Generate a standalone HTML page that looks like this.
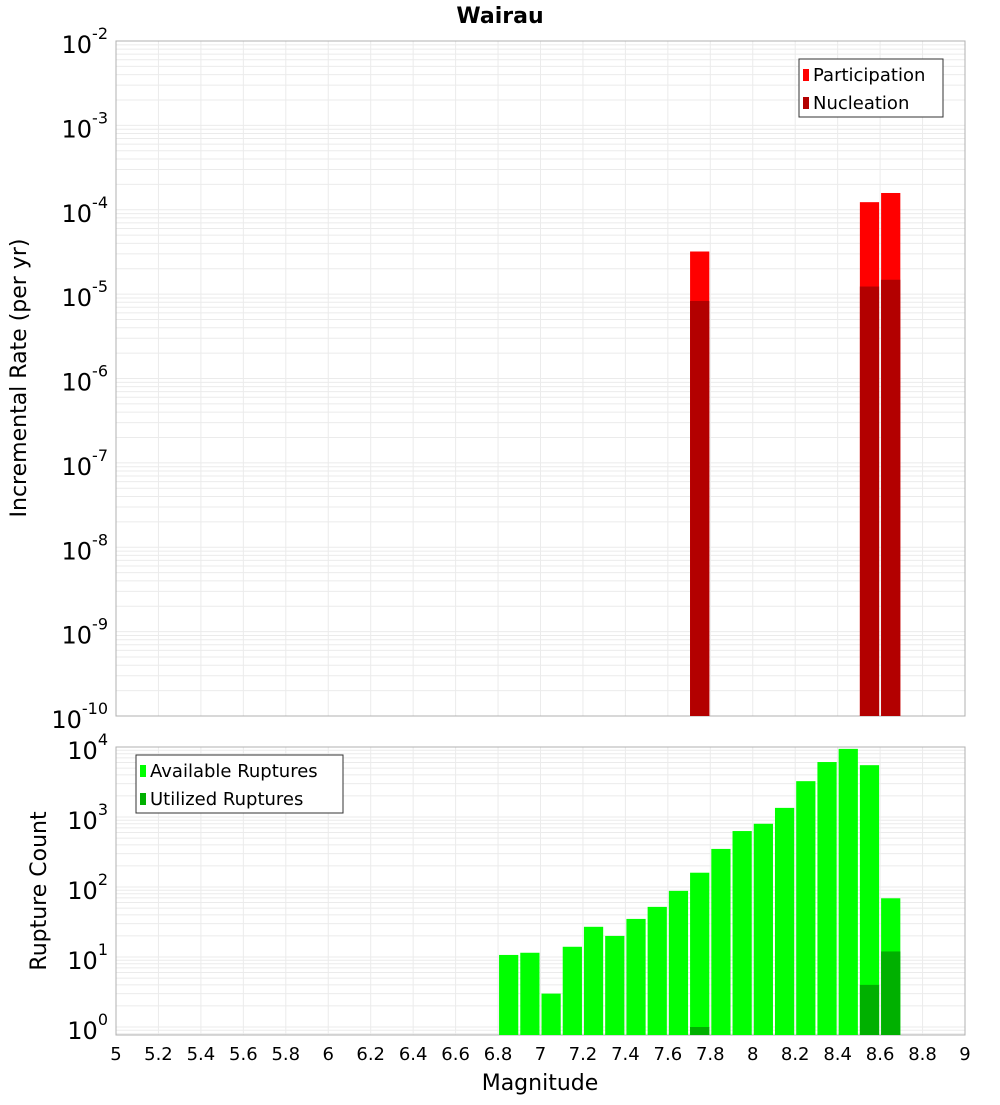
<!DOCTYPE html>
<html><head><meta charset="utf-8"><style>
body{margin:0;background:#fff;font-family:"Liberation Sans","DejaVu Sans",sans-serif}
svg text{font-family:"DejaVu Sans","Liberation Sans",sans-serif}
</style></head><body>
<svg id="c" width="1000" height="1100" xmlns="http://www.w3.org/2000/svg"></svg>
<script>
const mags=[6.85,6.95,7.05,7.15,7.25,7.35,7.45,7.55,7.65,7.75,7.85,7.95,8.05,8.15,8.25,8.35,8.45,8.55,8.65];
const available=[10.7,11.5,3,14,27,20,35,52,88,160,350,630,800,1350,3250,6100,9400,5500,69];
const utilizedMags=[7.75,8.55,8.65];
const utilized=[1,4,12];
const rateMags=[7.75,8.55,8.65];
const participation=[3.2e-5,1.23e-4,1.58e-4];
const nucleation=[8.3e-6,1.23e-5,1.48e-5];
const xTicks=[5,5.2,5.4,5.6,5.8,6,6.2,6.4,6.6,6.8,7,7.2,7.4,7.6,7.8,8,8.2,8.4,8.6,8.8,9];
const topExps=[-2,-3,-4,-5,-6,-7,-8,-9,-10];
const botExps=[4,3,2,1,0];

const svg=document.getElementById('c');
const NS='http://www.w3.org/2000/svg';
function mk(t,a,p){const e=document.createElementNS(NS,t);for(const k in a)e.setAttribute(k,a[k]);(p||svg).appendChild(e);return e;}
const X0=116,X1=965;
const x=m=>X0+(m-5)/4*(X1-X0);
const T0=41,T1=716; const yTop=v=>T0+(-2-Math.log10(v))/8*(T1-T0);
const B0=747,B1=1035,BD=70; const yBot=v=>B0+(4-Math.log10(v))*BD;

function grid(y0,y1,eMax,eMin,yf,name){
  const g=mk('g',{});
  
  
  for(let m=5;m<=9.001;m+=0.2){mk('line',{x1:x(m),x2:x(m),y1:y0,y2:y1,stroke:'#ebebeb'},g);}
  for(let e=Math.floor(eMin);e<eMax;e++){for(let k=1;k<10;k++){const yy=yf(k*Math.pow(10,e));if(yy>=y0&&yy<=y1)mk('line',{x1:X0,x2:X1,y1:yy,y2:yy,stroke:'#ebebeb'},g);}}
  const r=mk('rect',{x:X0,y:y0,width:X1-X0,height:y1-y0,fill:'none',stroke:'#b0b0b0'});
  
  
}
grid(T0,T1,-2,-10,yTop,'top-grid');
grid(B0,B1,4,-1,yBot,'bottom-grid');

const bw=(X1-X0)/40-2;
rateMags.forEach((m,i)=>{
  const r=mk('rect',{x:x(m-0.05)+1,y:yTop(participation[i]),width:bw,height:T1-yTop(participation[i]),fill:'#ff0000'});
  
  
  const n=mk('rect',{x:x(m-0.05)+1,y:yTop(nucleation[i]),width:bw,height:T1-yTop(nucleation[i]),fill:'#b30000'});
  
  
});
mags.forEach((m,i)=>{
  const r=mk('rect',{x:x(m-0.05)+1,y:yBot(available[i]),width:bw,height:B1-yBot(available[i]),fill:'#00ff00'});
  
  
});
utilizedMags.forEach((m,i)=>{
  const r=mk('rect',{x:x(m-0.05)+1,y:yBot(utilized[i]),width:bw,height:B1-yBot(utilized[i]),fill:'#00b000'});
  
  
});

function ylab(e,yy,name){
  const t=mk('text',{x:X0-8,y:yy+12,'text-anchor':'end','font-size':24,fill:'#000'});
  
  
  t.textContent='10';
  const s=mk('tspan',{dy:-14,'font-size':16},t); s.textContent=e;
}
topExps.forEach(e=>ylab(e,yTop(Math.pow(10,e)),'top-y-tick'));
botExps.forEach(e=>ylab(e,yBot(Math.pow(10,e)),'bottom-y-tick'));
xTicks.forEach(m=>{
  const t=mk('text',{x:x(m),y:1060,'text-anchor':'middle','font-size':18});
  
  
  t.textContent=String(m);
});
function txt(s,a,name){const t=mk('text',a);t.textContent=s;return t;}
txt('Wairau',{x:500,y:23,'text-anchor':'middle','font-size':22,'font-weight':'bold'},'chart-title');
txt('Magnitude',{x:540,y:1090,'text-anchor':'middle','font-size':22},'x-axis-title');
txt('Incremental Rate (per yr)',{x:26,y:378,'text-anchor':'middle','font-size':22,transform:'rotate(-90 26 378)'},'top-y-axis-title');
txt('Rupture Count',{x:46,y:891,'text-anchor':'middle','font-size':22,transform:'rotate(-90 46 891)'},'bottom-y-axis-title');

function legend(x0,y0,w,items,name){
  const g=mk('g',{});
  
  
  mk('rect',{x:x0,y:y0,width:w,height:58,fill:'#fff',stroke:'#333'},g);
  items.forEach((it,i)=>{
    mk('rect',{x:x0+4,y:y0+10+i*28,width:6,height:12,fill:it[1]},g);
    const t=mk('text',{x:x0+14,y:y0+22+i*28,'font-size':18},g);t.textContent=it[0];
  });
}
legend(799,59,144,[['Participation','#ff0000'],['Nucleation','#b30000']],'top-legend');
legend(136,755,207,[['Available Ruptures','#00ff00'],['Utilized Ruptures','#00b000']],'bottom-legend');
</script>
</body></html>
